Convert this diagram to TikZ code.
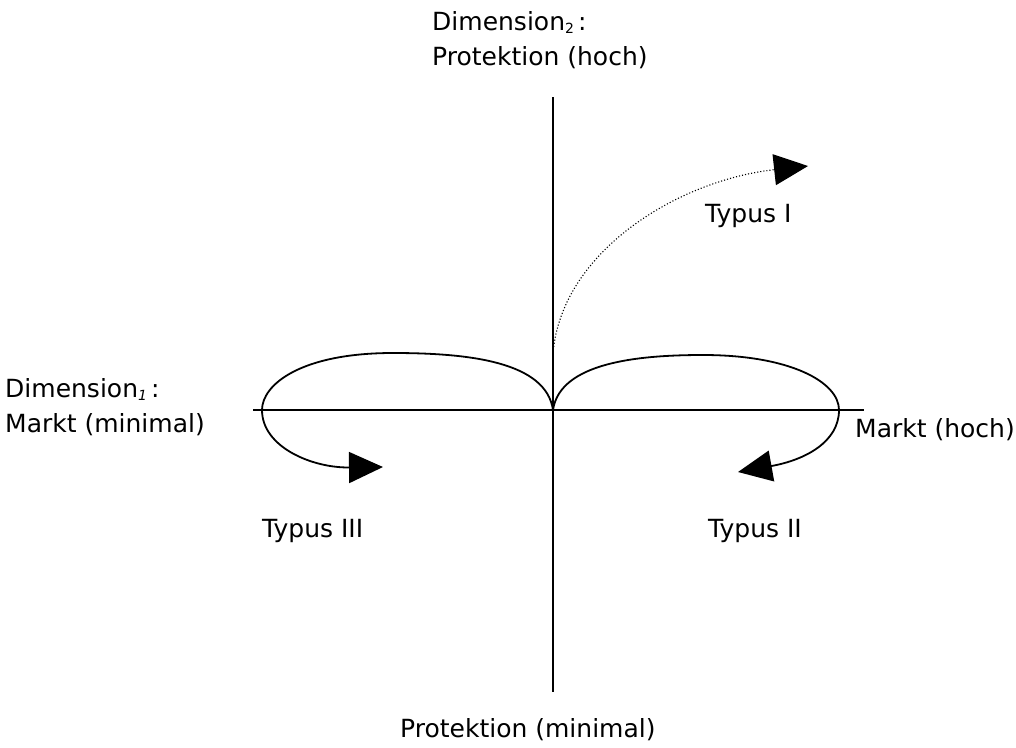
\documentclass[tikz,border=0pt]{standalone}
\usepackage{fontspec}
\setmainfont{DejaVu Sans}
\usetikzlibrary{arrows.meta}
\newcommand{\subidx}[1]{{\fontsize{14}{14}\selectfont\raisebox{-3pt}{#1}}}
\begin{document}
\begin{tikzpicture}[x=1pt,y=-1pt,
  lbl/.style={inner sep=0pt,font=\fontsize{25}{35}\selectfont,align=left},
  axis/.style={line width=1.5pt},
  loop/.style={line width=1.8pt},
  tip/.style={-{Triangle[length=34pt,width=31pt]}}]
\useasboundingbox (0,0) rectangle (1016,747);
% axes
\coordinate (O) at (553,410);
\coordinate (vtop) at (553,97);
\coordinate (vbot) at (553,692);
\coordinate (hleft) at (253,410);
\coordinate (hright) at (864,410);
\draw[axis] (vtop) -- (vbot);
\draw[axis] (hleft) -- (hright);
% Typus II loop
\coordinate (t2tip) at (738,472);
\draw[loop,tip] (O) .. controls (560,362) and (640,355) .. (703,355)
  .. controls (790,355) and (839,382) .. (839,410)
  .. controls (839,442) and (805,460) .. (t2tip);
% Typus III loop
\coordinate (t3tip) at (383,467);
\draw[loop,tip] (O) .. controls (546,362) and (470,353) .. (393,353)
  .. controls (300,353) and (262,385) .. (262,410)
  .. controls (262,447) and (312,468) .. (t3tip);
% Typus I dotted
\coordinate (t1start) at (553,353);
\coordinate (t1tip) at (808,166);
\draw[line width=1.1pt,dotted,-{Triangle[length=34pt,width=31pt]}] (t1start) .. controls (562,250) and (680,180) .. (t1tip);
% labels (base anchor = baseline of the last line)
\node[lbl,anchor=base west] (dim2) at (432,65) {Dimension\subidx{2}\,:\\Protektion (hoch)};
\node[lbl,anchor=base west] (dim1) at (5,432) {Dimension\subidx{\itshape 1}\,:\\Markt (minimal)};
\node[lbl,anchor=base west] (mh) at (855,437) {Markt (hoch)};
\node[lbl,anchor=base west] (pm) at (400,737) {Protektion (minimal)};
\node[lbl,anchor=base west] (ty1) at (705,222) {Typus I};
\node[lbl,anchor=base west] (ty2) at (708,537) {Typus II};
\node[lbl,anchor=base west] (ty3) at (262,537) {Typus III};
\end{tikzpicture}
\end{document}
